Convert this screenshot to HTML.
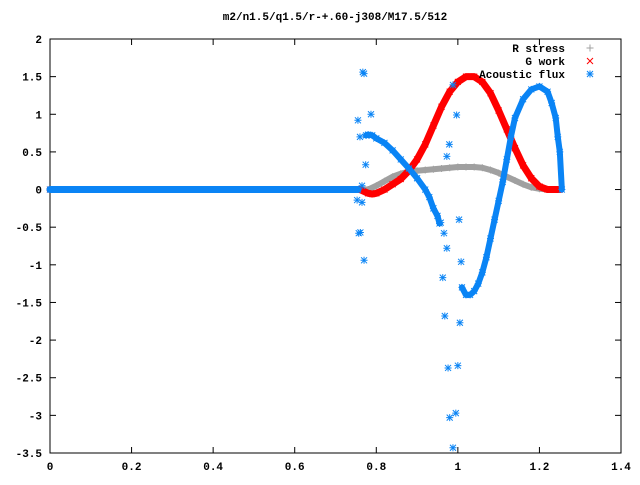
<!DOCTYPE html>
<html><head><meta charset="utf-8"><style>
body{margin:0;background:#fff}
svg text{font-family:"Liberation Mono","DejaVu Sans Mono",monospace;font-size:11px;font-weight:bold;fill:#000}
</style></head><body>
<svg id="chart" width="640" height="480" viewBox="0 0 640 480" xmlns="http://www.w3.org/2000/svg">
<rect width="640" height="480" fill="#fff"/>
<text x="335" y="20" text-anchor="middle">m2/n1.5/q1.5/r-+.60-j308/M17.5/512</text>
<g id="axes"></g><g id="series"></g>
<g id="legend">
<text x="565" y="52" text-anchor="end">R stress</text>
<text x="565" y="65" text-anchor="end">G work</text>
<text x="565" y="78" text-anchor="end">Acoustic flux</text>
</g>
</svg>
<script>
const xTicks=[0,0.2,0.4,0.6,0.8,1,1.2,1.4];
const xTickLabels=["0","0.2","0.4","0.6","0.8","1","1.2","1.4"];
const yTicks=[2,1.5,1,0.5,0,-0.5,-1,-1.5,-2,-2.5,-3,-3.5];
const yTickLabels=["2","1.5","1","0.5","0","-0.5","-1","-1.5","-2","-2.5","-3","-3.5"];
const rX=[0,0.75,0.78,0.80,0.82,0.84,0.86,0.88,0.90,0.92,0.94,0.96,0.98,1.00,1.02,1.04,1.06,1.08,1.10,1.12,1.14,1.16,1.18,1.20,1.22,1.25];
const rY=[0,0,0,0.05,0.11,0.17,0.21,0.24,0.25,0.26,0.27,0.28,0.29,0.3,0.3,0.3,0.29,0.26,0.22,0.17,0.12,0.07,0.03,0.01,0,0];
const gX=[0,0.76,0.78,0.79,0.80,0.82,0.84,0.86,0.88,0.90,0.92,0.94,0.96,0.98,1.00,1.02,1.04,1.06,1.08,1.10,1.12,1.14,1.16,1.18,1.20,1.22,1.25];
const gY=[0,0,-0.05,-0.06,-0.05,0,0.07,0.14,0.25,0.4,0.6,0.85,1.1,1.3,1.43,1.5,1.5,1.43,1.28,1.05,0.8,0.55,0.32,0.15,0.04,0,0];
const aX0=[0,0.755];
const aY0=[0,0];
const aX1=[0.775,0.78,0.79,0.80,0.82,0.84,0.86,0.88,0.90,0.92,0.93,0.94,0.95,0.955];
const aY1=[0.72,0.73,0.72,0.68,0.62,0.52,0.4,0.28,0.15,0.0,-0.1,-0.25,-0.35,-0.45];
const aX2=[1.01,1.02,1.03,1.04,1.05,1.06,1.07,1.08,1.09,1.10,1.11,1.12,1.13,1.14,1.16,1.18,1.20,1.22,1.23,1.24,1.245,1.25,1.255];
const aY2=[-1.3,-1.4,-1.4,-1.35,-1.25,-1.1,-0.9,-0.65,-0.4,-0.15,0.1,0.4,0.7,0.95,1.2,1.33,1.37,1.3,1.15,0.95,0.7,0.5,0.0];
const aSX=[0.767,0.770,0.787,0.755,0.760,0.774,0.753,0.765,0.757,0.761,0.770,0.973,0.958,0.966,0.973,0.963,0.968,0.976,0.980,0.988,0.995,1.000,1.005,1.008,1.003,0.997,0.988,0.979,0.765];
const aSY=[1.56,1.54,1.0,0.92,0.7,0.33,-0.14,-0.17,-0.58,-0.57,-0.94,0.44,-0.44,-0.58,-0.78,-1.17,-1.68,-2.37,-3.03,-3.43,-2.97,-2.34,-1.77,-0.96,-0.4,0.99,1.39,0.6,0.05];
const L=50,R=621,T=39,B=453;
const X=v=>L+(v-0)/(1.4)*(R-L);
const Y=v=>T+(2-v)/(5.5)*(B-T);
const NS="http://www.w3.org/2000/svg";
function mk(t,a,p){const e=document.createElementNS(NS,t);for(const k in a)e.setAttribute(k,a[k]);p.appendChild(e);return e;}
const ax=document.getElementById('axes');
const box=mk('rect',{x:L,y:T,width:R-L,height:B-T,fill:'none',stroke:'#000','stroke-width':1},ax);


xTicks.forEach((v,i)=>{const x=X(v);
 mk('line',{x1:x,x2:x,y1:B,y2:B-6,stroke:'#000'},ax);
 mk('line',{x1:x,x2:x,y1:T,y2:T+6,stroke:'#000'},ax);
 const t=mk('text',{x:x,y:B+17,'text-anchor':'middle'},ax);t.textContent=xTickLabels[i];
 
 });
yTicks.forEach((v,i)=>{const y=Y(v);
 mk('line',{x1:L,x2:L+6,y1:y,y2:y,stroke:'#000'},ax);
 mk('line',{x1:R,x2:R-6,y1:y,y2:y,stroke:'#000'},ax);
 const t=mk('text',{x:L-8,y:y+4,'text-anchor':'end'},ax);t.textContent=yTickLabels[i];
 
 });
const sg=document.getElementById('series');
function plus(g,x,y,c){mk('path',{d:`M${x-3.5},${y}h7M${x},${y-3.5}v7`,stroke:c,'stroke-width':1,fill:'none'},g);}
function cross(g,x,y,c){mk('path',{d:`M${x-3},${y-3}l6,6M${x-3},${y+3}l6,-6`,stroke:c,'stroke-width':1,fill:'none'},g);}
function star(g,x,y,c){plus(g,x,y,c);cross(g,x,y,c);}
function series(name,xs,ys,c,w,m,line){const g=mk('g',{},sg);
 
 
 if(line){mk('polyline',{points:xs.map((v,i)=>X(v)+','+Y(ys[i])).join(' '),fill:'none',stroke:c,'stroke-width':w,'stroke-linejoin':'round','stroke-linecap':'round'},g);}
 xs.forEach((v,i)=>m(g,X(v),Y(ys[i]),c));}
series('r-stress-series',rX,rY,'#a0a0a0',6,plus,true);
series('g-work-series',gX,gY,'#ff0000',7,cross,true);
series('acoustic-flux-flat',aX0,aY0,'#0a84f5',7,star,true);
series('acoustic-flux-series-1',aX1,aY1,'#0a84f5',6,star,true);
series('acoustic-flux-series-2',aX2,aY2,'#0a84f5',6,star,true);
series('acoustic-flux-scatter',aSX,aSY,'#0a84f5',0,star,false);
const lg=document.getElementById('legend');
plus(lg,590,48,'#a0a0a0');cross(lg,590,61,'#ff0000');star(lg,590,74,'#0a84f5');
</script>
</body></html>
